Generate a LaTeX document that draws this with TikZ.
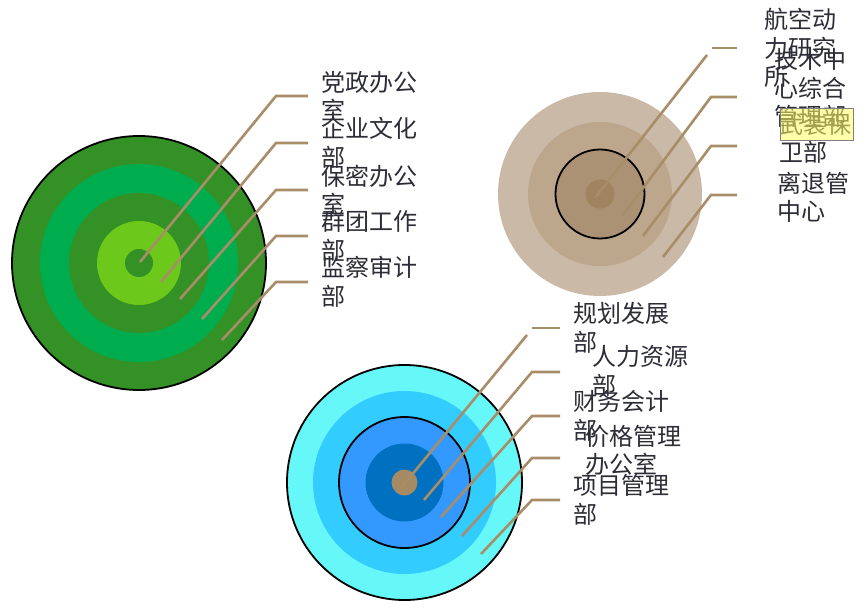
\documentclass[tikz,border=0pt]{standalone}
\usepackage{fontspec}
\setmainfont{Noto Sans CJK SC}
\definecolor{gdark}{RGB}{52,145,38}
\definecolor{gmid}{RGB}{0,173,78}
\definecolor{glime}{RGB}{108,200,26}
\definecolor{tone}{RGB}{201,185,166}
\definecolor{ttwo}{RGB}{188,166,140}
\definecolor{tthree}{RGB}{171,146,117}
\definecolor{tfour}{RGB}{160,132,96}
\definecolor{bone}{RGB}{102,248,248}
\definecolor{btwo}{RGB}{51,204,255}
\definecolor{bthree}{RGB}{51,153,255}
\definecolor{bfour}{RGB}{0,112,192}
\definecolor{bdot}{RGB}{166,138,100}
\definecolor{leader}{RGB}{168,142,104}
\definecolor{labeltext}{RGB}{45,45,55}
\definecolor{hilite}{RGB}{255,255,100}
\tikzset{
  ring/.style={draw=none},
  ringline/.style={draw=black,line width=1.8pt},
  leaderline/.style={draw=leader,line width=2.6pt},
  lbl/.style={anchor=west,inner sep=0pt,align=left,text=labeltext,
    font=\fontsize{24pt}{28.5pt}\selectfont}
}
\begin{document}
\begin{tikzpicture}[x=1pt,y=-1pt]
\useasboundingbox (0,0) rectangle (867,612);
% green target
\coordinate (gc) at (139,263);
\fill[gdark] (gc) circle (127);
\draw[ringline] (gc) circle (127);
\fill[gmid] (gc) circle (99);
\fill[gdark] (gc) circle (70);
\fill[glime] (gc) circle (42);
\fill[gdark] (gc) circle (14);
% tan target
\coordinate (tc) at (600,194);
\fill[tone] (tc) circle (102);
\fill[ttwo] (tc) circle (72);
\fill[tthree] (tc) circle (44.5);
\draw[ringline] (tc) circle (44.5);
\fill[tfour] (tc) circle (14.5);
% blue target
\coordinate (bc) at (404.5,482.5);
\fill[bone] (bc) circle (117.5);
\draw[ringline] (bc) circle (117.5);
\fill[btwo] (bc) circle (91.5);
\fill[bthree] (bc) circle (65.5);
\draw[ringline] (bc) circle (65.5);
\fill[bfour] (bc) circle (39);
\fill[bdot] (bc) circle (13);

% green leaders
\coordinate (ga1) at (140,262); \coordinate (gb1) at (276,96);  \coordinate (ge1) at (308,96);
\coordinate (ga2) at (161,282); \coordinate (gb2) at (276,143); \coordinate (ge2) at (308,143);
\coordinate (ga3) at (180,299); \coordinate (gb3) at (276,190); \coordinate (ge3) at (308,190);
\coordinate (ga4) at (202,319); \coordinate (gb4) at (276,236); \coordinate (ge4) at (308,236);
\coordinate (ga5) at (222,340); \coordinate (gb5) at (276,282); \coordinate (ge5) at (308,282);
\foreach \i in {1,...,5} \draw[leaderline] (ga\i) -- (gb\i) -- (ge\i);

% tan leaders
\coordinate (ta1) at (595,198); \coordinate (tb1) at (707,55);
\coordinate (th1) at (712,48);  \coordinate (te1) at (737,48);
\draw[leaderline] (ta1) -- (tb1);
\draw[leaderline] (th1) -- (te1);
\coordinate (ta2) at (623,215); \coordinate (tb2) at (711,97);  \coordinate (te2) at (737,97);
\coordinate (ta3) at (643,236); \coordinate (tb3) at (711,146); \coordinate (te3) at (737,146);
\coordinate (ta4) at (663,257); \coordinate (tb4) at (711,195); \coordinate (te4) at (737,195);
\foreach \i in {2,3,4} \draw[leaderline] (ta\i) -- (tb\i) -- (te\i);

% blue leaders
\coordinate (ba1) at (401,488); \coordinate (bb1) at (527,335);
\coordinate (bh1) at (532,328); \coordinate (be1) at (560,328);
\draw[leaderline] (ba1) -- (bb1);
\draw[leaderline] (bh1) -- (be1);
\coordinate (ba2) at (424,500); \coordinate (bb2) at (532,372); \coordinate (be2) at (560,372);
\coordinate (ba3) at (441,517); \coordinate (bb3) at (532,416); \coordinate (be3) at (560,416);
\coordinate (ba4) at (462,536); \coordinate (bb4) at (532,458); \coordinate (be4) at (560,458);
\coordinate (ba5) at (481,554); \coordinate (bb5) at (532,500); \coordinate (be5) at (560,500);
\foreach \i in {2,...,5} \draw[leaderline] (ba\i) -- (bb\i) -- (be\i);

% green labels
\node[lbl] (g1) at (321,96)  {党政办公\\室};
\node[lbl] (g2) at (321,143) {企业文化\\部};
\node[lbl] (g3) at (321,190) {保密办公\\室};
\node[lbl] (g4) at (321,236) {群团工作\\部};
\node[lbl] (g5) at (321,282) {监察审计\\部};

% tan labels
\node[lbl] (t1) at (764,48)   {航空动\\力研究\\所};
\node[lbl] (t2) at (774,88)   {技术中\\心综合\\管理部};
\node[lbl] (t3) at (779,138.5) {武装保\\卫部};
\node[lbl] (t4) at (777,197.5) {离退管\\中心};
\fill[hilite,opacity=0.55] (780,108) rectangle (853,140);
\draw[gray,line width=0.8pt] (780,108) rectangle (853,140);

% blue labels
\node[lbl] (b1) at (573,328)   {规划发展\\部};
\node[lbl] (b2) at (592,371)   {人力资源\\部};
\node[lbl] (b3) at (573,416)   {财务会计\\部};
\node[lbl] (b4) at (585,450.5) {价格管理\\办公室};
\node[lbl] (b5) at (573,500)   {项目管理\\部};
\end{tikzpicture}
\end{document}
